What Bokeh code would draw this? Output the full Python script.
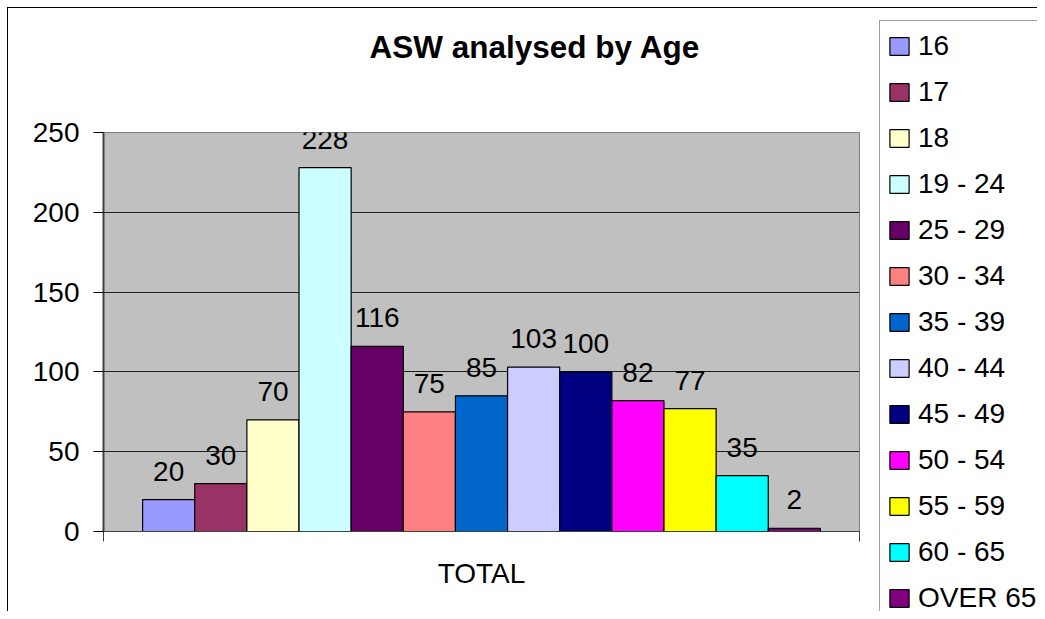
from bokeh.plotting import figure
from bokeh.layouts import row, column
from bokeh.models import (ColumnDataSource, Range1d, FixedTicker, Legend, LegendItem,
                          LabelSet, Title, LinearAxis)
from bokeh.core.properties import value
from bokeh.embed import file_html
from bokeh.resources import INLINE

# ---- data ----
categories = ["TOTAL"]
age_groups = ["16", "17", "18", "19 - 24", "25 - 29", "30 - 34", "35 - 39",
              "40 - 44", "45 - 49", "50 - 54", "55 - 59", "60 - 65", "OVER 65"]
counts = [20, 30, 70, 228, 116, 75, 85, 103, 100, 82, 77, 35, 2]
colors = ["#9999FF", "#993366", "#FFFFCC", "#CCFFFF", "#660066", "#FF8080", "#0066CC",
          "#CCCCFF", "#000080", "#FF00FF", "#FFFF00", "#00FFFF", "#800080"]
y_ticks = [0, 50, 100, 150, 200, 250]

FONT = "Liberation Sans"
n = len(age_groups)
xpos = [i + 0.5 for i in range(n)]

src = ColumnDataSource(dict(x=xpos, top=counts, color=colors, age=age_groups,
                            label=[str(c) for c in counts]))

p = figure(width=871, height=611, output_backend="svg", toolbar_location=None,
           title=None,
           x_range=Range1d(-0.75, n + 0.75), y_range=Range1d(0, 250),
           min_border_left=103, min_border_right=12, min_border_top=132,
           min_border_bottom=80)

p.background_fill_color = "#C0C0C0"
p.border_fill_alpha = 0
p.outline_line_color = "#808080"
p.outline_line_width = 1

bars = p.vbar(x="x", top="top", width=1.0, bottom=0, source=src,
              fill_color="color", line_color="black", line_width=1.2)

labels = LabelSet(x="x", y="top", text="label", source=src, text_align="center",
                  text_baseline="alphabetic", y_offset=19, text_font_size="28px",
                  text_font=value(FONT), text_color="black")
p.add_layout(labels)

# y axis
ya = p.left[0]
ya.ticker = FixedTicker(ticks=y_ticks)
ya.major_label_text_font = FONT
ya.major_label_text_font_size = "28px"
ya.major_label_text_color = "black"
ya.major_tick_out = 10
ya.major_tick_in = 0
ya.minor_tick_line_color = None
ya.major_tick_line_color = "black"
ya.axis_line_color = "#404040"
ya.axis_line_width = 2
ya.major_label_standoff = 14

# x axis (single category)
xa = p.below[0]
xa.ticker = FixedTicker(ticks=[n / 2], minor_ticks=[-0.75, n + 0.75])
xa.major_label_overrides = {n / 2: categories[0]}
xa.major_label_text_font = FONT
xa.major_label_text_font_size = "28px"
xa.major_label_text_color = "black"
xa.major_tick_line_color = None
xa.major_tick_out = 0
xa.minor_tick_out = 10
xa.minor_tick_in = 0
xa.minor_tick_line_color = "#404040"
xa.axis_line_color = "#404040"
xa.major_label_standoff = 16

p.xgrid.grid_line_color = None
p.ygrid.ticker = FixedTicker(ticks=y_ticks)
p.ygrid.grid_line_color = "#202020"
p.ygrid.grid_line_width = 1

# invisible spacer between plot area and title
spacer = LinearAxis(ticker=FixedTicker(ticks=[n / 2], minor_ticks=[]),
                    major_label_overrides={n / 2: ""},
                    major_tick_out=63, major_tick_in=0,
                    major_label_standoff=0, axis_line_color=None,
                    major_tick_line_color=None, minor_tick_line_color=None,
                    minor_tick_out=0, major_label_text_font_size="0px",
                    major_label_text_alpha=0)
p.add_layout(spacer, "above")
p.add_layout(Title(text="ASW analysed by Age", text_font=FONT, text_font_size="31.5px",
                   text_font_style="bold", text_color="black", align="left",
                   offset=266, standoff=10), "above")

# legend panel (separate figure sharing the same data source)
lg = figure(width=166, height=611, output_backend="svg", toolbar_location=None,
            x_axis_type=None, y_axis_type=None, title=None,
            x_range=Range1d(100, 101), y_range=Range1d(1000, 1001),
            min_border_left=0, min_border_right=0, min_border_top=0,
            min_border_bottom=0)
lg.outline_line_color = None
lg.background_fill_alpha = 0
lg.border_fill_alpha = 0
lbars = lg.vbar(x="x", top="top", width=1.0, bottom=0, source=src,
                fill_color="color", line_color="black", line_width=1.2)

items = [LegendItem(label=age_groups[i], renderers=[lbars], index=i) for i in range(n)]
legend = Legend(items=items, location=(8, -12), padding=7, spacing=11,
                label_height=35, label_width=130, glyph_width=24, glyph_height=22,
                label_standoff=7, label_text_font=FONT, label_text_font_size="28px",
                label_text_color="black", border_line_color="#404040",
                border_line_width=1, background_fill_color="white",
                background_fill_alpha=1.0, margin=0)
lg.add_layout(legend)

layout = row(p, column(lg, spacing=0), spacing=0)
layout.styles = {
    "background-color": "white",
    "background-image": "linear-gradient(black, black), linear-gradient(black, black)",
    "background-size": "1px 100%, 100% 1px",
    "background-position": "7px 7px, 7px 7px",
    "background-repeat": "no-repeat, no-repeat",
}

open("out.html", "w").write(file_html(layout, INLINE))
